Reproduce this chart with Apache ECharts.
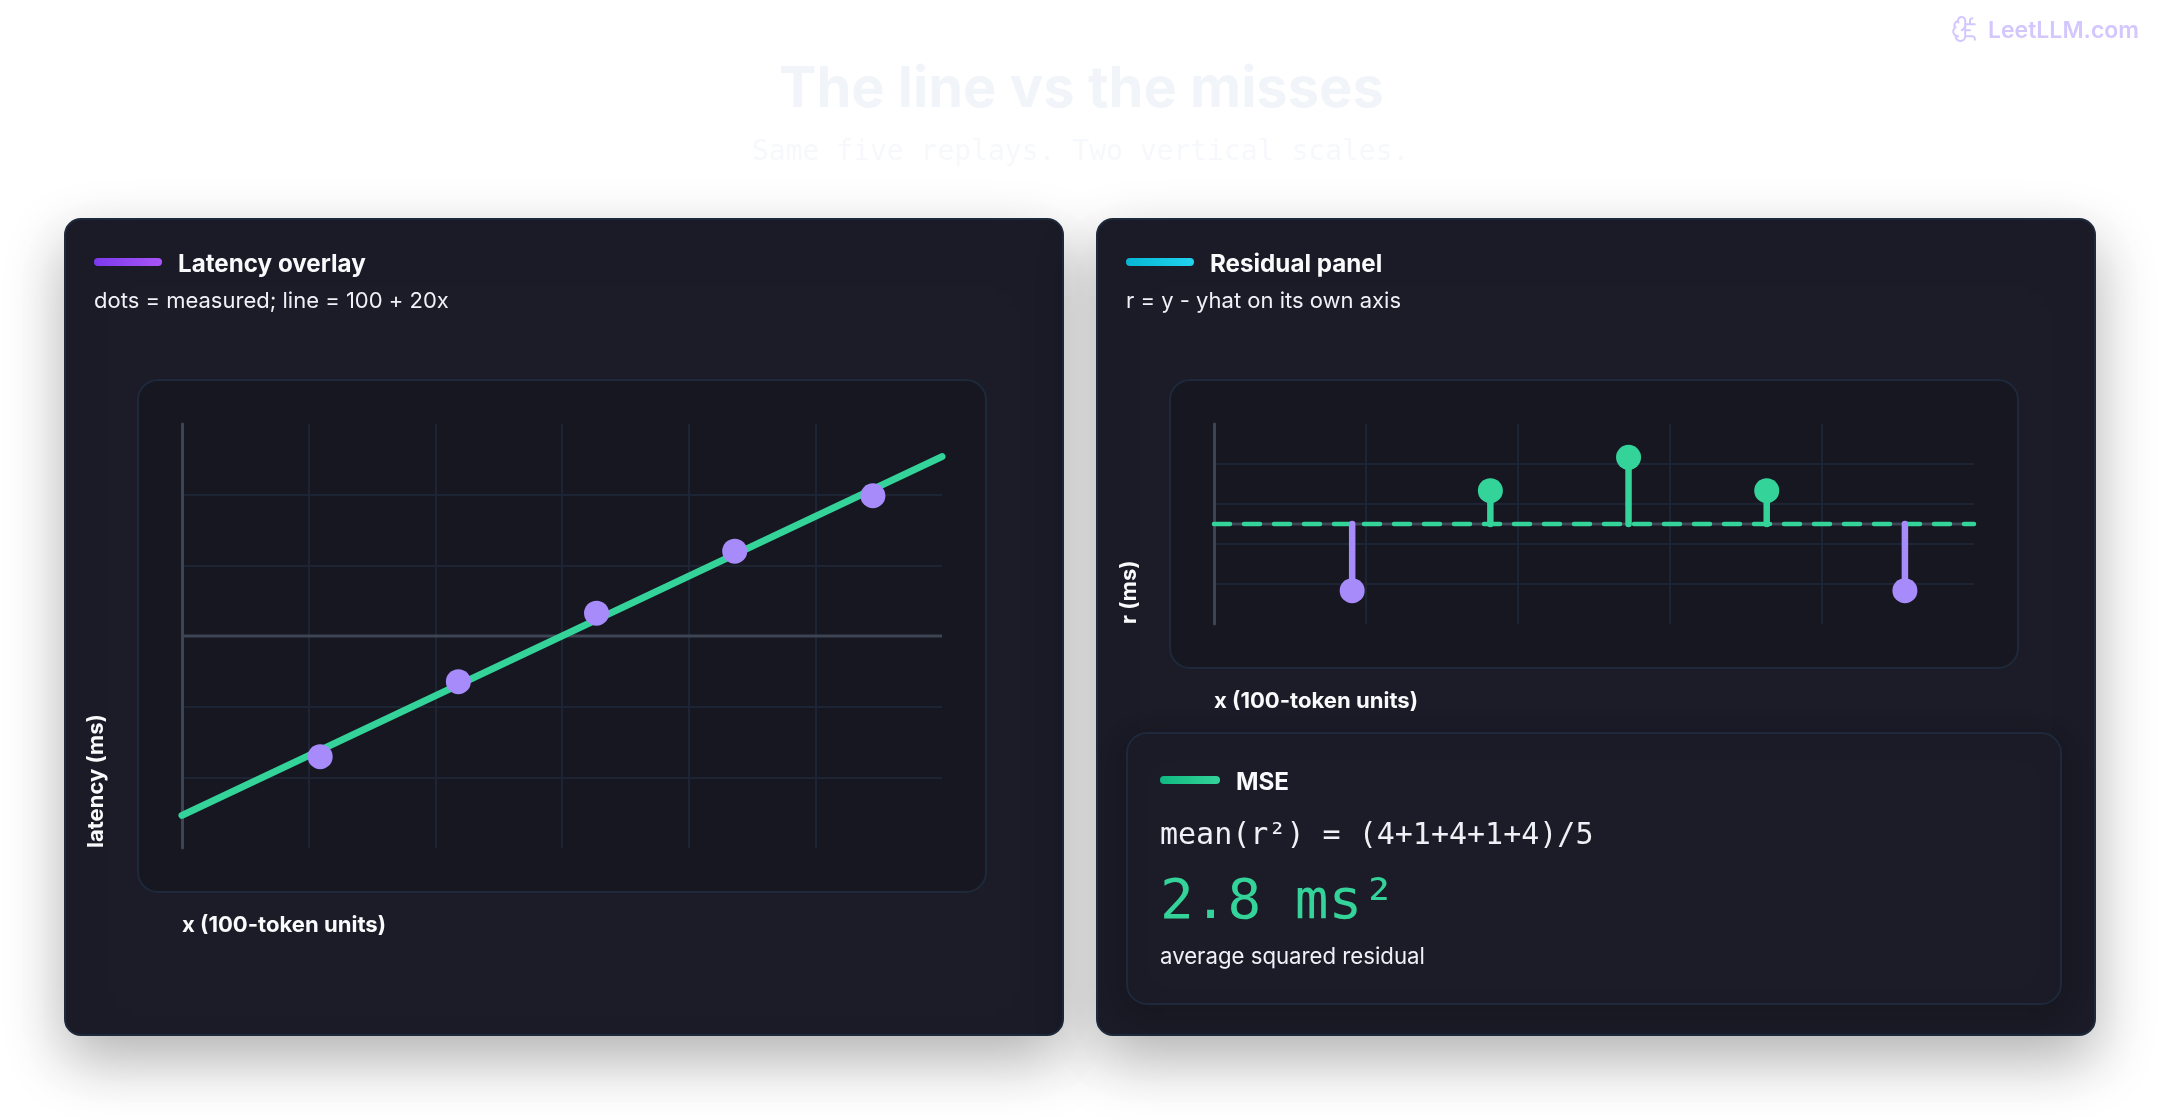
<!DOCTYPE html>
<html><head><meta charset="utf-8">
<style>html,body{margin:0;padding:0;background:#fff}#c{width:2160px;height:1120px}</style>
<script src="https://cdn.jsdelivr.net/npm/echarts@6/dist/echarts.min.js"></script>
</head><body><div id="c"></div>
<script>
const replayX = [1, 2, 3, 4, 5];
const measured = [118, 141, 162, 181, 198];
const fitX = [0, 5.5];
const fitY = [100, 210];
const residuals = [-2, 1, 2, 1, -2];
const zeroX = [0, 5.5];
const zeroY = [0, 0];
const latencyYTicks = [111.6667, 133.3333, 176.6667, 198.3333];
const latencyXTicks = [0.91667, 1.83333, 2.75, 3.66667, 4.58333];
const residualYTicks = [-1.8, -0.6, 0.6, 1.8];
const residualXTicks = [1.1, 2.2, 3.3, 4.4];
const latencyMidline = 155;

const sans = 'Inter', mono = '"DejaVu Sans Mono"';
const GRID = '#1d2535', AXIS = '#3d4554', GREEN = '#34d399', VIOLET = '#a78bfa', WHITE = '#f8fafc', SOFT = '#eef2f7', LOGO = '#d3c7fd', CARD = '#1b1c27', PLOT = '#161720', EDGE = '#1e293b';
const brainPaths = 'M12 5a3 3 0 1 0-5.997.125 4 4 0 0 0-2.526 5.77 4 4 0 0 0 .556 6.588A4 4 0 1 0 12 18Z M9 13a4.5 4.5 0 0 0 3-4 M6.003 5.125A3 3 0 0 0 6.401 6.5 M3.477 10.896a4 4 0 0 1 .585-.396 M6 18a4 4 0 0 1-1.967-.516 M12 13h4 M12 18h6a2 2 0 0 1 2 2v1 M12 8h8 M16 8V5a2 2 0 0 1 2-2';

function box(x, y, w, h, r, fill, stroke, extra) {
  return { type: 'rect', silent: true, shape: { x, y, width: w, height: h, r },
    style: Object.assign({ fill, stroke, lineWidth: 2 }, extra || {}) };
}
function pill(x, y, w, h, c0, c1) {
  return { type: 'rect', silent: true, shape: { x, y, width: w, height: h, r: h / 2 },
    style: { fill: new echarts.graphic.LinearGradient(0, 0, 1, 0, [{ offset: 0, color: c0 }, { offset: 1, color: c1 }]) } };
}
// (x, base) is the left end of the text's baseline
function txt(text, x, base, size, weight, fill, family) {
  const k = family === mono ? 0.22 : 0.28;
  return { type: 'text', silent: true, x, y: base - k * size,
    style: { text, fill, font: weight + ' ' + size + 'px ' + family, verticalAlign: 'middle', align: 'left' } };
}
function vtxt(text, baseX, startY, size, weight, fill, family) {
  return { type: 'text', silent: true, x: baseX - 0.28 * size, y: startY, rotation: Math.PI / 2,
    style: { text, fill, font: weight + ' ' + size + 'px ' + family, verticalAlign: 'middle', align: 'left' } };
}
const cardShadow = { shadowBlur: 60, shadowOffsetY: 24, shadowColor: 'rgba(0,0,0,0.30)' };
const innerShadow = { shadowBlur: 30, shadowOffsetY: 6, shadowColor: 'rgba(0,0,0,0.18)' };

const back = [
  box(65, 219, 998, 816, 16, CARD, EDGE, cardShadow),
  box(1097, 219, 998, 816, 16, CARD, EDGE, cardShadow),
  box(138, 380, 848, 512, 20, PLOT, EDGE),
  box(1170, 380, 848, 288, 20, PLOT, EDGE),
  box(1127, 733, 934, 271, 20, CARD, EDGE, innerShadow)
].map(e => Object.assign(e, { z: -10 }));

const front = [
  txt('The line vs the misses', 779, 105.5, 56, 700, '#f1f5f9', sans),
  txt('Same five replays. Two vertical scales.', 752, 159, 28, 400, '#f6f8fb', mono),
  txt('LeetLLM.com', 1988, 38, 23, 600, LOGO, sans),
  pill(94, 258, 68, 8, '#7c3aed', '#a855f7'),
  txt('Latency overlay', 178, 272, 24.2, 700, WHITE, sans),
  txt('dots = measured; line = 100 + 20x', 94, 308, 22, 400, SOFT, sans),
  pill(1126, 258, 68, 8, '#06b6d4', '#22d3ee'),
  txt('Residual panel', 1210, 272, 24.2, 700, WHITE, sans),
  txt('r = y - yhat on its own axis', 1126, 308, 22, 400, SOFT, sans),
  txt('x (100-token units)', 182, 932, 22.1, 700, WHITE, sans),
  txt('x (100-token units)', 1214, 708, 22.1, 700, WHITE, sans),
  vtxt('latency (ms)', 103, 848, 22, 700, WHITE, sans),
  vtxt('r (ms)', 1136, 624, 22, 700, WHITE, sans),
  pill(1160, 776, 60, 8, '#10b981', '#34d399'),
  txt('MSE', 1236, 790, 24.2, 700, WHITE, sans),
  txt('mean(r²) = (4+1+4+1+4)/5', 1160, 843, 30, 400, SOFT, mono),
  txt('2.8 ms²', 1160, 916, 56, 400, GREEN, mono),
  txt('average squared residual', 1160, 964, 22.2, 400, SOFT, sans)
];

const gridLine = { show: true, lineStyle: { color: GRID, width: 2 } };
function xAx(idx, ticks) {
  return { type: 'value', gridIndex: idx, min: 0, max: 5.5,
    axisLine: { show: false },
    axisTick: { show: false, customValues: ticks }, axisLabel: { show: false, customValues: ticks },
    splitLine: gridLine };
}
function yAx(idx, min, max, ticks) {
  return { type: 'value', gridIndex: idx, min, max,
    axisLine: { show: true, onZero: true, lineStyle: { color: AXIS, width: 3 } },
    axisTick: { show: false, customValues: ticks }, axisLabel: { show: false, customValues: ticks },
    splitLine: gridLine };
}

const chart = echarts.init(document.getElementById('c'));
chart.setOption({
  animation: false,
  backgroundColor: '#ffffff',
  graphic: { elements: back.concat(front) },
  grid: [
    { left: 182, top: 424, width: 760, height: 424 },
    { left: 1214, top: 424, width: 760, height: 200 }
  ],
  xAxis: [xAx(0, latencyXTicks), xAx(1, residualXTicks)],
  yAxis: [yAx(0, 90, 220, latencyYTicks), yAx(1, -3, 3, residualYTicks)],
  series: [
    { name: 'logo', type: 'custom', coordinateSystem: 'none', silent: true, z: 6, data: [0],
      renderItem() {
        return { type: 'path', x: 1952, y: 17,
          shape: { pathData: brainPaths, layout: 'center', x: 0, y: 0, width: 24, height: 24 },
          style: { fill: 'none', stroke: LOGO, lineWidth: 2, lineCap: 'round', lineJoin: 'round' } };
      } },
    { name: 'midline', type: 'line', xAxisIndex: 0, yAxisIndex: 0, silent: true, symbol: 'none', z: 2,
      data: fitX.map(x => [x, latencyMidline]), lineStyle: { color: AXIS, width: 3 } },
    { name: 'fit', type: 'line', xAxisIndex: 0, yAxisIndex: 0, silent: true, symbol: 'none', z: 3,
      data: fitX.map((x, i) => [x, fitY[i]]), lineStyle: { color: GREEN, width: 7, cap: 'round' } },
    { name: 'measured', type: 'scatter', xAxisIndex: 0, yAxisIndex: 0, silent: true, symbolSize: 25, z: 4,
      data: replayX.map((x, i) => [x, measured[i]]), itemStyle: { color: VIOLET, opacity: 1 } },
    { name: 'axisZero', type: 'line', xAxisIndex: 1, yAxisIndex: 1, silent: true, symbol: 'none', z: 2,
      data: zeroX.map((x, i) => [x, zeroY[i]]), lineStyle: { color: AXIS, width: 3 } },
    { name: 'zero', type: 'line', xAxisIndex: 1, yAxisIndex: 1, silent: true, symbol: 'none', z: 3,
      data: zeroX.map((x, i) => [x, zeroY[i]]),
      lineStyle: { color: GREEN, width: 4.5, type: [16, 14], cap: 'round' } },
    { name: 'stems', type: 'custom', xAxisIndex: 1, yAxisIndex: 1, silent: true, z: 4,
      data: replayX.map((x, i) => [x, residuals[i]]),
      renderItem(params, api) {
        const a = api.coord([api.value(0), 0]), b = api.coord([api.value(0), api.value(1)]);
        return { type: 'line', shape: { x1: a[0], y1: a[1], x2: b[0], y2: b[1] },
          style: { stroke: api.value(1) < 0 ? VIOLET : GREEN, lineWidth: 6.5, lineCap: 'round' } };
      } },
    { name: 'residual', type: 'scatter', xAxisIndex: 1, yAxisIndex: 1, silent: true, symbolSize: 25, z: 5,
      data: replayX.map((x, i) => ({ value: [x, residuals[i]], itemStyle: { color: residuals[i] < 0 ? VIOLET : GREEN, opacity: 1 } })) }
  ]
});
</script></body></html>
